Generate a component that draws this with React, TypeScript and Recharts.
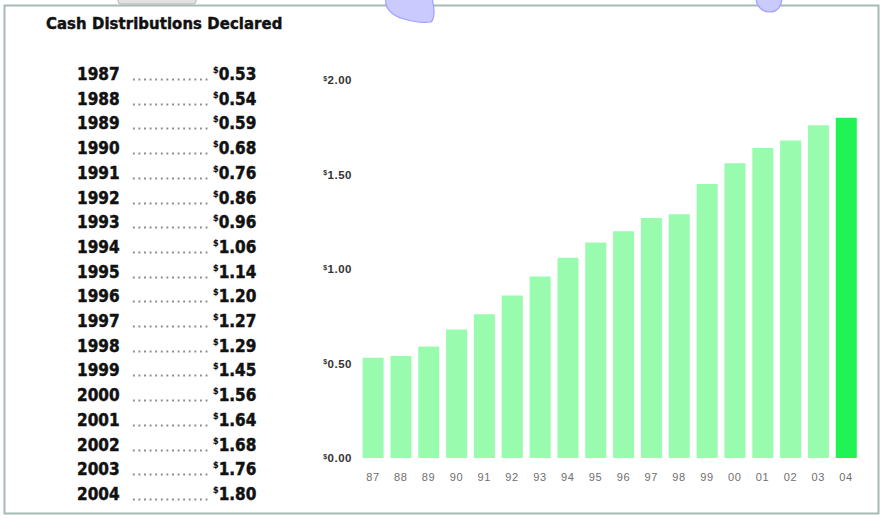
import { BarChart, Bar, XAxis, YAxis, Cell } from 'recharts'

const years = [
  '1987', '1988', '1989', '1990', '1991', '1992', '1993', '1994', '1995',
  '1996', '1997', '1998', '1999', '2000', '2001', '2002', '2003', '2004',
]
const distributions = [
  0.53, 0.54, 0.59, 0.68, 0.76, 0.86, 0.96, 1.06, 1.14,
  1.2, 1.27, 1.29, 1.45, 1.56, 1.64, 1.68, 1.76, 1.8,
]
const yTicks = [0, 0.5, 1, 1.5, 2]

const LIGHT = '#98fbae'
const BRIGHT = '#20f455'
const BOLD_FONT = '"DejaVu Sans Condensed", "DejaVu Sans", sans-serif'
const AXIS_FONT = '"Liberation Sans", Arial, sans-serif'

const data = years.map((y, i) => ({ year: y.slice(2), value: distributions[i] }))

const heavy = {
  fontWeight: 700,
  fontFamily: BOLD_FONT,
  fontStretch: 'condensed',
  color: '#111',
  WebkitTextStroke: '0.45px #111',
  whiteSpace: 'nowrap' as const,
}

function YTick({ x, y, payload }: any) {
  return (
    <text x={x + 1} y={y + 4} textAnchor="end" fontFamily={AXIS_FONT} fontSize={11.5}
      fontWeight={700} fill="#333" letterSpacing={0.5}>
      <tspan fontSize={7} dy={-3.5}>$</tspan>
      <tspan dy={3.5}>{Number(payload.value).toFixed(2)}</tspan>
    </text>
  )
}

function XTick({ x, y, payload }: any) {
  return (
    <text x={x} y={y + 15} textAnchor="middle" fontFamily={AXIS_FONT} fontSize={11}
      fill="#6e6e6e" letterSpacing={0.6}>
      {payload.value}
    </text>
  )
}

function Row({ year, value, index }: { year: string; value: number; index: number }) {
  const top = 74 + index * 24.7
  return (
    <div style={{ position: 'absolute', left: 0, top: top - 12, height: 24, width: 300 }}>
      <span style={{ ...heavy, position: 'absolute', left: 77, top: 2, fontSize: 17,
        lineHeight: '20px' }}>
        {year}
      </span>
      <div style={{ position: 'absolute', left: 131, top: 16, width: 77, height: 3,
        backgroundImage: 'radial-gradient(circle, #8a8a8a 0.9px, transparent 1.3px)',
        backgroundSize: '5.6px 3px', backgroundRepeat: 'repeat-x' }} />
      <span style={{ ...heavy, position: 'absolute', left: 213, top: 2, fontSize: 17,
        lineHeight: '20px' }}>
        <span style={{ fontSize: 9, position: 'relative', top: -7, WebkitTextStroke: '0.2px #111' }}>$</span>
        {value.toFixed(2)}
      </span>
    </div>
  )
}

export default function App() {
  return (
    <div style={{ position: 'absolute', left: 0, top: 0, width: 883, height: 518,
      background: '#fff', overflow: 'hidden' }}>
      <svg width={883} height={518} style={{ position: 'absolute', left: 0, top: 0 }}>
        <rect x={118} y={-4} width={78} height={8} rx={3} fill="#e2e2e2" stroke="#b5b5b5" />
        <rect x={4.5} y={5.5} width={874} height={508} fill="#fff" stroke="#a6b9b2" strokeWidth={2} />
      </svg>
      <div style={{ ...heavy, position: 'absolute', left: 46, top: 13, fontSize: 16.5,
        lineHeight: '22px', letterSpacing: 0.1 }}>
        Cash Distributions Declared
      </div>
      {years.map((y, i) => (
        <Row key={y} year={y} value={distributions[i]} index={i} />
      ))}
      <div style={{ position: 'absolute', left: 0, top: 0 }}>
        <BarChart width={883} height={518} data={data}
          margin={{ top: 80, right: 23, bottom: 0, left: 322 }} barCategoryGap="13%">
          <XAxis dataKey="year" height={60} axisLine={false} tickLine={false}
            interval={0} tick={<XTick />} />
          <YAxis width={37} domain={[0, 2]} ticks={yTicks} axisLine={false}
            tickLine={false} interval={0} tick={<YTick />} />
          <Bar dataKey="value" isAnimationActive={false}>
            {data.map((_, i) => (
              <Cell key={`cell-${i}`} fill={i === data.length - 1 ? BRIGHT : LIGHT} />
            ))}
          </Bar>
        </BarChart>
      </div>
      <svg width={883} height={40} style={{ position: 'absolute', left: 0, top: 0 }}>
        <path d="M386,-2 C384,8 392,16 404,19 C414,22 424,23 431,22 C436,17 434,6 432,-2 Z"
          fill="#cacaff" stroke="#a0a0ff" strokeWidth={1.2} />
        <path d="M756,-2 C756,6 762,12 770,12 C777,12 782,6 782,-2 Z"
          fill="#cacaff" stroke="#a0a0ff" strokeWidth={1.2} />
      </svg>
    </div>
  )
}
